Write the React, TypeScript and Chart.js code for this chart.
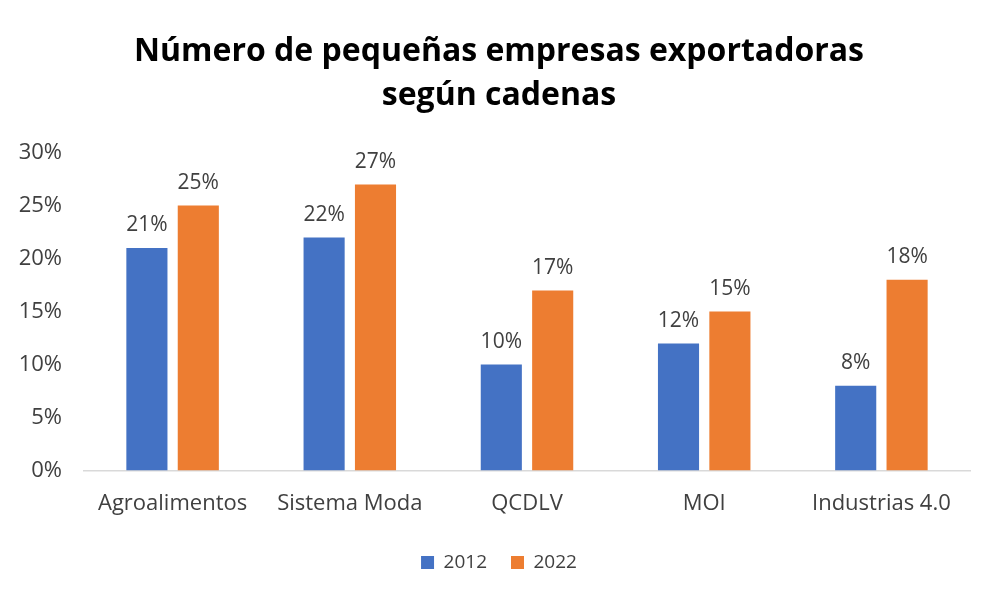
import React, { useEffect, useRef } from "react";
import { Chart, registerables } from "chart.js";

Chart.register(...registerables);

const categories = ["Agroalimentos", "Sistema Moda", "QCDLV", "MOI", "Industrias 4.0"];
const values2012 = [0.21, 0.22, 0.1, 0.12, 0.08];
const values2022 = [0.25, 0.27, 0.17, 0.15, 0.18];
const seriesLabels = ["2012", "2022"];
const titleLines = ["Número de pequeñas empresas exportadoras", "según cadenas"];

const FONT = "'Open Sans', 'Noto Sans', sans-serif";
const TICK_FONT_SIZE = 22;

const labelPlugin = {
  id: "barLabels",
  afterDatasetsDraw(chart: any) {
    const ctx = chart.ctx;
    ctx.save();
    ctx.font = `21px ${FONT}`;
    ctx.fillStyle = "#404040";
    ctx.textAlign = "center";
    ctx.textBaseline = "bottom";
    chart.data.datasets.forEach((ds: any, i: number) => {
      const meta = chart.getDatasetMeta(i);
      meta.data.forEach((bar: any, j: number) => {
        const v = ds.data[j];
        ctx.fillText(Math.round(v * 100) + "%", bar.x, bar.y - 12);
      });
    });
    ctx.restore();
  },
};

const pct = (v: any) => Math.round(Number(v) * 100) + "%";

export default function App() {
  const ref = useRef<HTMLCanvasElement>(null);
  useEffect(() => {
    const mctx = document.createElement("canvas").getContext("2d")!;
    mctx.font = `${TICK_FONT_SIZE}px ${FONT}`;
    const widest = Math.max(...[0, 0.05, 0.1, 0.15, 0.2, 0.25, 0.3].map((v) => mctx.measureText(pct(v)).width));

    const chart = new Chart(ref.current!, {
      type: "bar",
      data: {
        labels: categories,
        datasets: [
          { label: seriesLabels[0], data: values2012, backgroundColor: "#4472C4" },
          { label: seriesLabels[1], data: values2022, backgroundColor: "#ED7D31" },
        ],
      },
      options: {
        animation: false,
        responsive: true,
        maintainAspectRatio: false,
        layout: { padding: { left: 28, right: 30, top: 0, bottom: 18 } },
        datasets: { bar: { categoryPercentage: 0.58, barPercentage: 0.8 } },
        plugins: {
          title: {
            display: true,
            text: titleLines,
            color: "#000000",
            font: { family: FONT, size: 32, weight: "bold", lineHeight: 1.4 },
            padding: { top: 29, bottom: 34 },
          },
          legend: {
            position: "bottom",
            labels: {
              boxWidth: 13,
              boxHeight: 13,
              color: "#404040",
              font: { family: FONT, size: 19 },
              padding: 24,
            },
          },
          tooltip: { enabled: false },
        },
        scales: {
          x: {
            grid: { display: false },
            border: { display: true, color: "#D9D9D9", width: 1.5 },
            ticks: { color: "#404040", font: { family: FONT, size: TICK_FONT_SIZE }, padding: 12 },
          },
          y: {
            min: 0,
            max: 0.3,
            grid: { display: false },
            border: { display: false },
            afterFit: (scale: any) => {
              scale.width = 56;
            },
            ticks: {
              stepSize: 0.05,
              mirror: true,
              crossAlign: "far",
              color: "#404040",
              font: { family: FONT, size: TICK_FONT_SIZE },
              padding: -22 - widest,
              callback: pct,
            },
          },
        },
      },
      plugins: [labelPlugin],
    });
    return () => chart.destroy();
  }, []);
  return (
    <div style={{ position: "fixed", left: 0, top: 0, width: 1000, height: 600, background: "#fff" }}>
      <canvas ref={ref} />
    </div>
  );
}
